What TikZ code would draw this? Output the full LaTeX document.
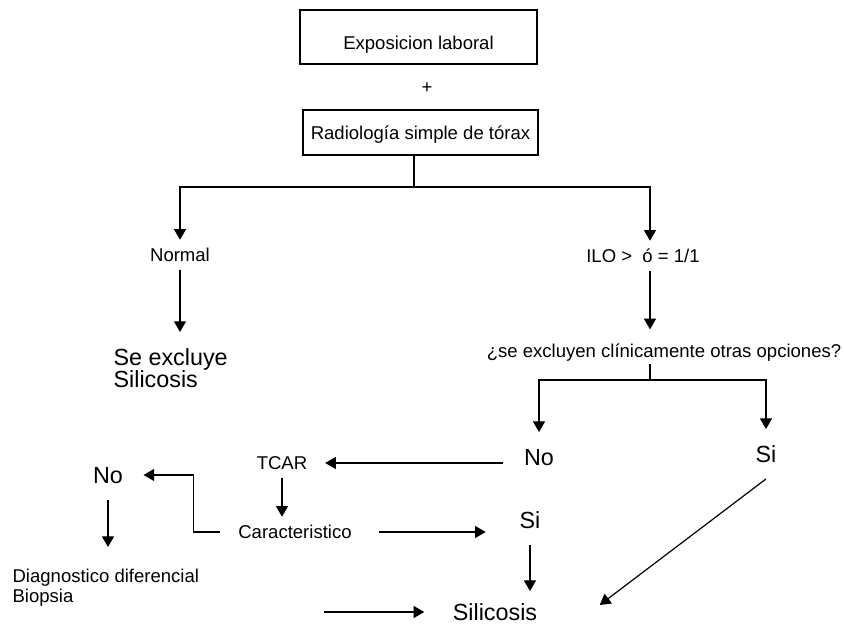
\documentclass[tikz,border=0pt]{standalone}
\usepackage{fontspec}
\setmainfont{Liberation Sans}
\usetikzlibrary{arrows.meta,calc}

\tikzset{every picture/.style={line width=0.9pt}}
\tikzset{
  flecha/.style={-{Triangle[width=9pt,length=8pt]}},
  caja/.style={draw, inner sep=0pt, font=\fontsize{13.9}{16}\selectfont},
  texto/.style={inner xsep=13pt, inner ysep=6pt, text height=9.95pt, text depth=0pt, font=\fontsize{13.9}{16}\selectfont},
  grande/.style={inner xsep=15pt, inner ysep=12pt, text height=12.5pt, text depth=0pt, font=\fontsize{17.5}{16.5}\selectfont},
  bloque/.style={anchor=north west, inner xsep=0pt, align=left},
}

\begin{document}
\begin{tikzpicture}[x=0.75pt,y=0.75pt,yscale=-1,xscale=1]
\useasboundingbox (0,0) rectangle (844,627);

%Shape: Rectangle
\node[caja, minimum width=177.75pt, minimum height=40.5pt, text height=19pt, text depth=0pt] (expo) at (418.5,37) {Exposicion laboral};
\node[texto] (mas) at (427,87) {+};
%Shape: Rectangle
\node[caja, minimum width=176.25pt, minimum height=33.75pt, text height=9.95pt, text depth=0pt] (radio) at (420.5,132.5) {Radiología simple de tórax};
\coordinate (rama) at (414,187);

%Text
\node[texto] (normal) at (180,255) {Normal};
\node[texto] (ilo) at (643,256) {ILO >\ \ ó = 1/1};
\node[bloque, inner ysep=12.3pt, font=\fontsize{17.5}{16.5}\selectfont] (excluye) at (113,332) {Se excluye\\Silicosis};
\node[texto, inner ysep=0pt] (pregunta) at (664,351) {¿se excluyen clínicamente otras opciones?};
\coordinate (rama2) at (650,380);
\node[grande] (no1) at (539,457) {No};
\node[grande] (si1) at (766,454) {Si};
\node[texto] (tcar) at (282,463) {TCAR};
\node[texto] (carac) at (295,532) {Caracteristico};
\node[grande] (no2) at (108,475) {No};
\node[grande] (si2) at (530,520) {Si};
\node[bloque, inner ysep=15.75pt, font=\fontsize{13.9}{15}\selectfont] (difer) at (12,547) {Diagnostico diferencial\\Biopsia};
\node[grande] (silicosis) at (495,612) {Silicosis};
\coordinate (suelta) at (324,612);

%Straight Lines
\draw (radio.south -| rama) -- (rama);
\draw[flecha] (rama) -| (normal.north);
\draw[flecha] (rama) -| (ilo.north -| rama2);
\draw[flecha] (normal.south) -- (normal.south |- excluye.north);
\draw[flecha, shorten >=10.8pt] (ilo.south -| rama2) -- (pregunta.north -| rama2);
\draw[shorten <=4pt] (pregunta.south -| rama2) -- (rama2);
\draw[flecha] (rama2) -| (no1.north);
\draw[flecha] (rama2) -| (si1.north);
\draw[flecha] (no1.west |- tcar.east) -- (tcar.east);
\draw[flecha] (tcar.south) -- (tcar.south |- carac.north);
\draw[flecha] (carac.west) -- ++(-27,0) |- (no2.east);
\draw[flecha] (no2.south) -- (no2.south |- difer.north);
\draw[flecha, shorten <=7pt, shorten >=10pt] (carac.east) -- (carac.east -| si2.west);
\draw[flecha, shorten >=-3pt] (si2.south) -- (si2.south |- silicosis.north);
\draw[flecha] (si1.south) -- ($(silicosis.east)+(42,-7)$);
\draw[flecha, shorten >=6pt] (suelta) -- (suelta -| silicosis.west);

\end{tikzpicture}
\end{document}
